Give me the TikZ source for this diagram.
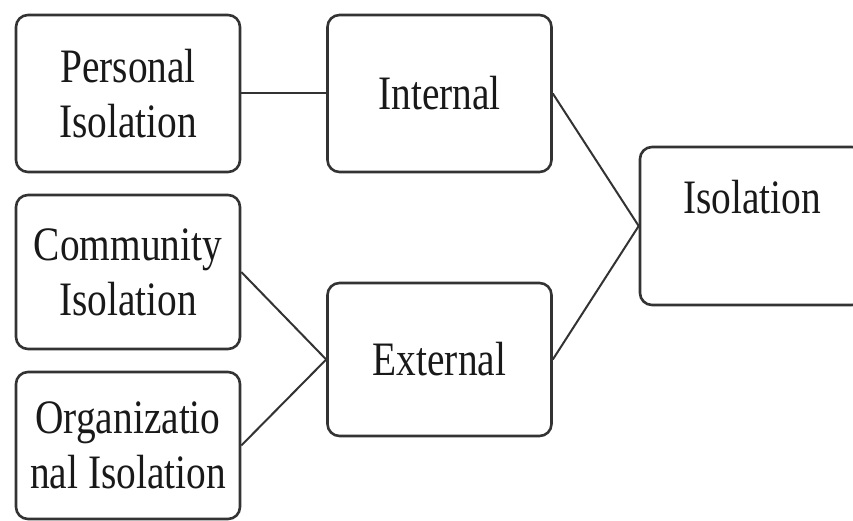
\documentclass[tikz,border=0pt]{standalone}
\usepackage{fontspec}
\setmainfont{Liberation Serif}[FakeStretch=0.82]
\colorlet{boxcol}{black!80}
\colorlet{textcol}{black!90}

\begin{document}
\begin{tikzpicture}[x=1pt, y=-1pt,
    every node/.style={font=\fontsize{48}{55}\selectfont, text=textcol, align=center},
    factor/.style={draw=boxcol, line width=2.6pt, rounded corners=12pt, minimum width=224pt, inner sep=0pt},
    link/.style={draw=boxcol, line width=2pt}]
  \useasboundingbox (0,0) rectangle (853,521);
  \clip (0,0) rectangle (853,521);

  % left column
  \node[factor, minimum height=157pt] (personal) at (128,93.5) {Personal\\Isolation};
  \node[factor, minimum height=154pt] (community) at (128,272) {Community\\Isolation};
  \node[factor, minimum height=147pt] (organizational) at (128,445.5) {Organizatio\\nal Isolation};

  % middle column
  \node[factor, minimum height=157pt] (internal) at (439.5,93.5) {Internal};
  \node[factor, minimum height=153pt] (external) at (439.5,359.5) {External};

  % root (runs past the right edge)
  \node[factor, minimum height=158pt, text height=10pt, text depth=34pt] (isolation) at (752,226) {Isolation};

  \draw[link] (personal) -- (internal);
  \draw[link] (community.east) -- (external.west);
  \draw[link] (organizational.east) -- (external.west);
  \draw[link] (internal.east) -- (isolation.west);
  \draw[link] (external.east) -- (isolation.west);
\end{tikzpicture}
\end{document}
